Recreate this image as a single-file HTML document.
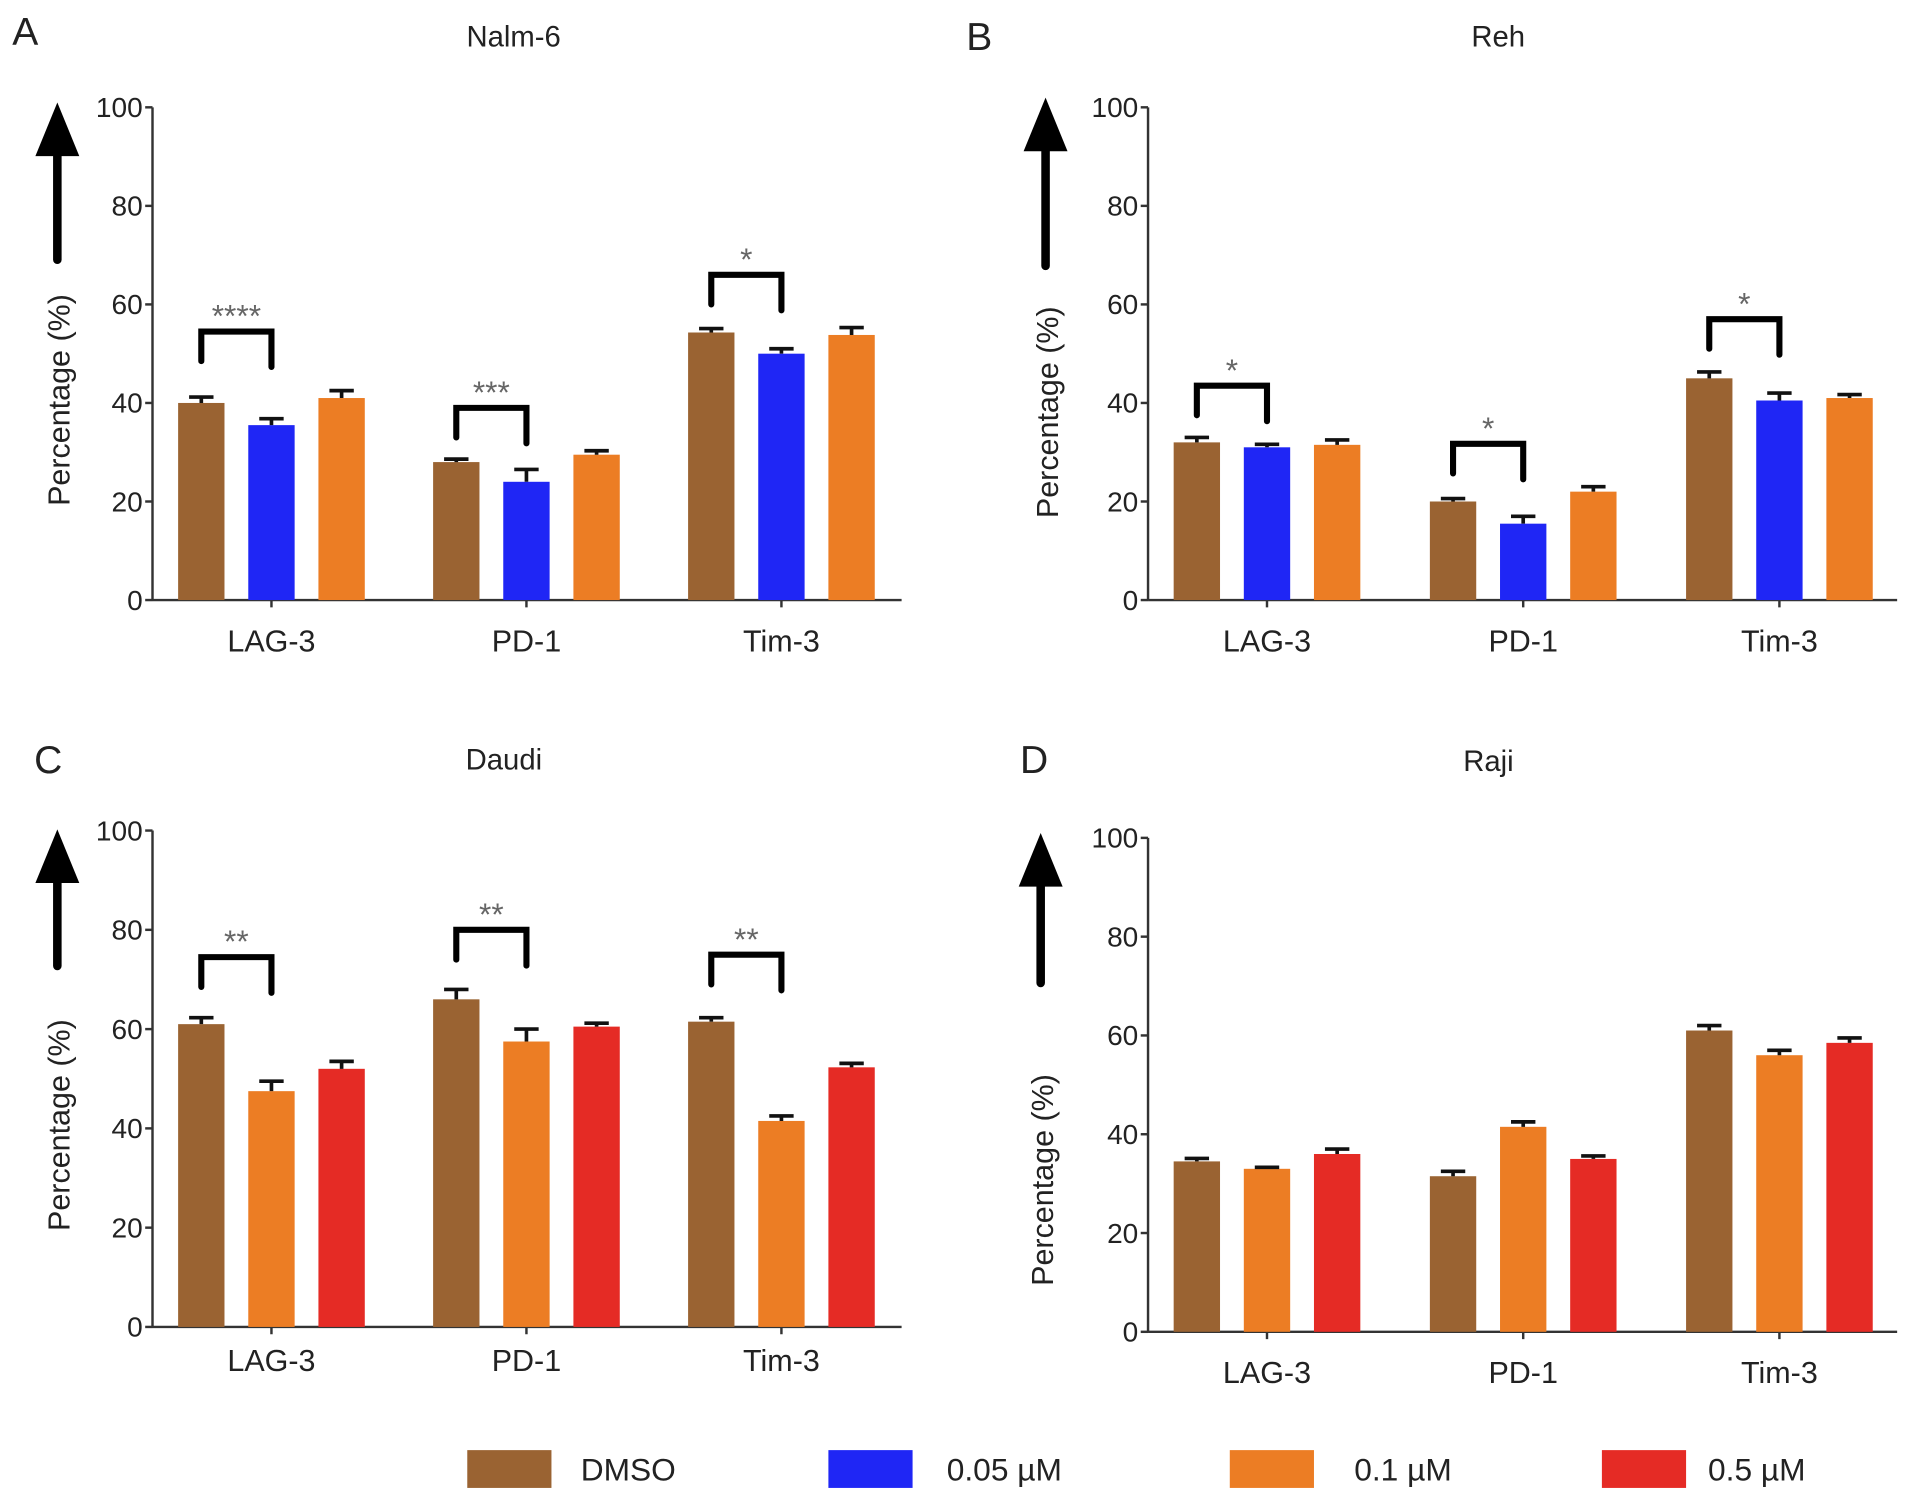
<!DOCTYPE html>
<html><head><meta charset="utf-8"><style>
html,body{margin:0;padding:0;background:#fff}
svg{display:block}
text{font-family:"Liberation Sans",sans-serif;fill:#222}
</style></head><body>
<svg id="fig" width="1913" height="1505" viewBox="0 0 1568 1234" preserveAspectRatio="none" xmlns="http://www.w3.org/2000/svg"></svg>
<script>
const categories = ["LAG-3","PD-1","Tim-3"];
const yTicks = [0,20,40,60,80,100];
const aValues = [[40,35.5,41],[28,24,29.5],[54.3,50,53.8]];
const aErrors = [[1.2,1.3,1.5],[0.6,2.5,0.8],[0.8,1,1.5]];
const bValues = [[32,31,31.5],[20,15.5,22],[45,40.5,41]];
const bErrors = [[1,0.6,1],[0.6,1.5,1],[1.3,1.5,0.7]];
const cValues = [[61,47.5,52],[66,57.5,60.5],[61.5,41.5,52.3]];
const cErrors = [[1.3,2,1.5],[2,2.5,0.7],[0.8,1,0.8]];
const dValues = [[34.5,33,36],[31.5,41.5,35],[61,56,58.5]];
const dErrors = [[0.6,0.3,1],[1,1,0.6],[1,1,1]];
const aSig = [["****",54.5],["***",39],["*",66]];
const bSig = [["*",43.5],["*",31.7],["*",57]];
const cSig = [["**",74.5],["**",80],["**",75]];
const dSig = [];
const legendLabels = ["DMSO","0.05 \u00b5M","0.1 \u00b5M","0.5 \u00b5M"];
const C = {brown:"#9a6332",blue:"#1f26f5",orange:"#ec7d24",red:"#e52b25"};

const svg = document.getElementById('fig');
const NS = "http://www.w3.org/2000/svg";
function mk(tag, attrs, parent){const e=document.createElementNS(NS,tag);for(const k in attrs)e.setAttribute(k,attrs[k]);(parent||svg).appendChild(e);return e;}

function panel(o){
  const g = mk('g',{});
  
  
  const y = v => o.y0 - (o.y0-o.y100)*v/100;
  const gs = o.gs || 209;
  const barX = (ci,si) => o.ax + 21 + ci*gs + si*57.5;
  const bw = 38;
  let t = mk('text',{x:o.lx,y:o.ly,'font-size':32},g); t.textContent=o.letter;
   
  t = mk('text',{x:o.tx,y:o.ty,'font-size':24,'text-anchor':'middle'},g); t.textContent=o.title;
   
  const arr = mk('g',{},g);
   
  mk('line',{x1:o.arx,y1:o.arBot,x2:o.arx,y2:o.arTop+40,stroke:'#000','stroke-width':7,'stroke-linecap':'round'},arr);
  mk('polygon',{points:`${o.arx-18},${o.arTop+44} ${o.arx+18},${o.arTop+44} ${o.arx},${o.arTop}`,fill:'#000'},arr);
  t = mk('text',{x:0,y:0,'font-size':25,'text-anchor':'middle',transform:`translate(${o.arx+10},${(o.y0+o.y100)/2+38+o.ytOff}) rotate(-90)`},g);
  t.textContent='Percentage (%)';
   
  const ya = mk('line',{x1:o.ax,y1:o.y0,x2:o.ax,y2:o.y100,stroke:'#333','stroke-width':2},g);
   
  const xa = mk('line',{x1:o.ax,y1:o.y0,x2:o.ax+614,y2:o.y0,stroke:'#333','stroke-width':2},g);
   
  yTicks.forEach(v=>{
    mk('line',{x1:o.ax-6,y1:y(v),x2:o.ax,y2:y(v),stroke:'#333','stroke-width':2},g);
    const tt = mk('text',{x:o.ax-8,y:y(v)+8,'font-size':23,'text-anchor':'end'},g); tt.textContent=v;
     
  });
  categories.forEach((c,ci)=>{
    const cx = barX(ci,1)+bw/2;
    mk('line',{x1:cx,y1:o.y0,x2:cx,y2:o.y0+6,stroke:'#333','stroke-width':2},g);
    const tt = mk('text',{x:cx,y:o.y0+o.xlOff,'font-size':25,'text-anchor':'middle'},g); tt.textContent=c;
     
    o.values[ci].forEach((v,si)=>{
      const x = barX(ci,si);
      const r = mk('rect',{x:x,y:y(v),width:bw,height:o.y0-y(v),fill:o.colors[si]},g);
      
      
      const e = o.errors[ci][si], cx2 = x+bw/2;
      const eb = mk('path',{d:`M${cx2},${y(v)} V${y(v+e)} M${cx2-10},${y(v+e)} H${cx2+10}`,stroke:'#111','stroke-width':3,fill:'none'},g);
       
    });
    if(o.sig[ci]){
      const [s,top]=o.sig[ci];
      const x1=barX(ci,0)+bw/2, x2=barX(ci,1)+bw/2;
      const br = mk('path',{d:`M${x1},${y(top-6)} V${y(top)} H${x2} V${y(top-7.2)}`,stroke:'#000','stroke-width':5,fill:'none','stroke-linecap':'round'},g);
       
      const st = mk('text',{x:(x1+x2)/2,y:y(top)-4,'font-size':26,'text-anchor':'middle',style:'fill:#666'},g);
      st.textContent=s;
       
    }
  });
}
panel({letter:'A',lx:10,ly:37,title:'Nalm-6',tx:421,ty:38,ax:125,y0:492,y100:88,arx:47,arTop:84,arBot:213,ytOff:0,xlOff:42,values:aValues,errors:aErrors,sig:aSig,colors:[C.brown,C.blue,C.orange]});
panel({letter:'B',lx:792,ly:41,title:'Reh',tx:1228,ty:38,ax:941,y0:492,y100:88,arx:857,arTop:80,arBot:218,ytOff:10,xlOff:42,gs:210,values:bValues,errors:bErrors,sig:bSig,colors:[C.brown,C.blue,C.orange]});
panel({letter:'C',lx:28,ly:634,title:'Daudi',tx:413,ty:631,ax:125,y0:1088,y100:681,arx:47,arTop:680,arBot:792,ytOff:0,xlOff:36,values:cValues,errors:cErrors,sig:cSig,colors:[C.brown,C.orange,C.red]});
panel({letter:'D',lx:836,ly:634,title:'Raji',tx:1220,ty:632,ax:941,y0:1092,y100:687,arx:853,arTop:683,arBot:806,ytOff:40,xlOff:42,gs:210,values:dValues,errors:dErrors,sig:dSig,colors:[C.brown,C.orange,C.red]});

const legX=[383,679,1008,1313], legTX=[476,776,1110,1400], legC=[C.brown,C.blue,C.orange,C.red];
legendLabels.forEach((l,i)=>{
  const g = mk('g',{});
   
  mk('rect',{x:legX[i],y:1189,width:69,height:31,fill:legC[i]},g);
  const t = mk('text',{x:legTX[i],y:1214,'font-size':26},g); t.textContent=l;
});
</script>
</body></html>
